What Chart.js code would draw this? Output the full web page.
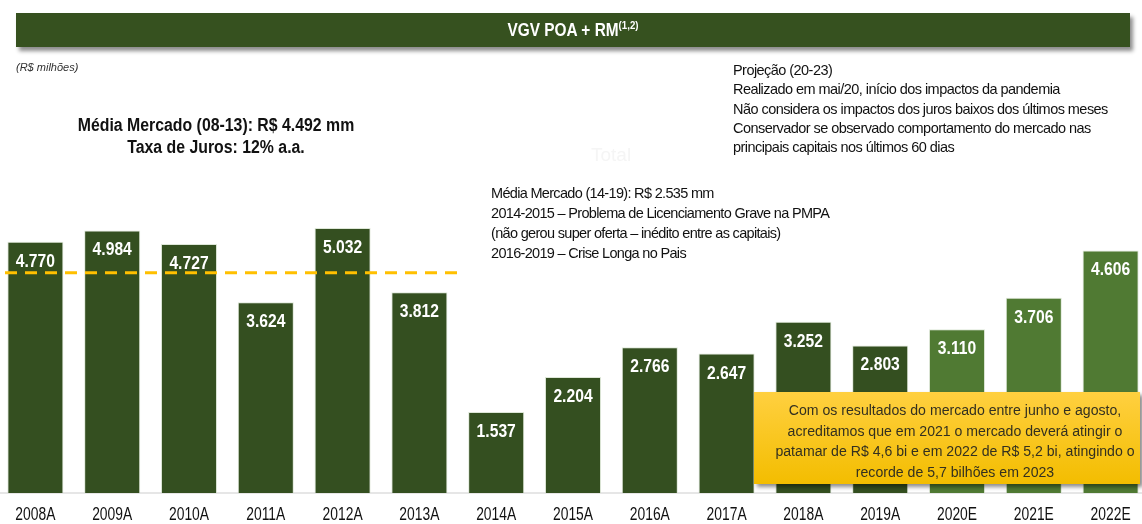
<!DOCTYPE html>
<html><head><meta charset="utf-8">
<script src="https://cdn.jsdelivr.net/npm/chart.js@4.4.0/dist/chart.umd.min.js"></script>
<style>
html,body{margin:0;padding:0;background:#fff;width:1142px;height:524px;overflow:hidden;position:relative;font-family:"Liberation Sans",Arial,sans-serif;}
#wrap{position:absolute;left:-3px;top:0;width:1152px;height:524px;}
.ov{position:absolute;white-space:nowrap;}
#title{left:16px;top:13px;width:1114px;height:34px;background:#36511f;box-shadow:3px 4px 4px rgba(0,0,0,0.45);}
#titletxt{left:16px;top:13px;width:1114px;height:34px;color:#fff;font-weight:bold;font-size:17.5px;line-height:34px;text-align:center;transform:scaleX(0.88);}
#titletxt sup{font-size:11px;vertical-align:top;position:relative;top:-5px;}
#unit{left:16px;top:61px;font-size:11px;font-style:italic;color:#333;}
#media1{left:0;width:432px;top:114px;text-align:center;font-weight:bold;font-size:18px;line-height:22px;color:#111;transform:scaleX(0.88);}
#proj{left:733px;top:61px;font-size:14.5px;line-height:19.3px;color:#111;letter-spacing:-0.55px;}
#media2{left:491px;top:183px;font-size:14.5px;line-height:20px;color:#111;letter-spacing:-0.68px;}
#total{left:591px;top:144px;font-size:19px;color:#f5f5f5;}
#box{left:754px;top:392px;width:386px;height:92px;background:linear-gradient(#ffd040,#f3bd00);box-shadow:3px 3px 4px rgba(0,0,0,0.45);}
#boxtxt{left:755px;top:400px;width:400px;text-align:center;font-size:15.5px;line-height:20.5px;color:#333020;transform:scaleX(0.91);}
</style></head>
<body>
<div id="wrap"><canvas id="c" width="1152" height="524"></canvas></div>
<div class="ov" id="title"></div>
<div class="ov" id="titletxt">VGV POA + RM<sup>(1,2)</sup></div>
<div class="ov" id="unit">(R$ milhões)</div>
<div class="ov" id="total">Total</div>
<div class="ov" id="media1">Média Mercado (08-13): R$ 4.492 mm<br>Taxa de Juros: 12% a.a.</div>
<div class="ov" id="proj">Projeção (20-23)<br>Realizado em mai/20, início dos impactos da pandemia<br>Não considera os impactos dos juros baixos dos últimos meses<br>Conservador se observado comportamento do mercado nas<br>principais capitais nos últimos 60 dias</div>
<div class="ov" id="media2">Média Mercado (14-19): R$ 2.535 mm<br>2014-2015 – Problema de Licenciamento Grave na PMPA<br>(não gerou super oferta – inédito entre as capitais)<br>2016-2019 – Crise Longa no Pais</div>
<div class="ov" id="box"></div>
<div class="ov" id="boxtxt">Com os resultados do mercado entre junho e agosto,<br>acreditamos que em 2021 o mercado deverá atingir o<br>patamar de R$ 4,6 bi e em 2022 de R$ 5,2 bi, atingindo o<br>recorde de 5,7 bilhões em 2023</div>
<script>
const anos = ["2008A","2009A","2010A","2011A","2012A","2013A","2014A","2015A","2016A","2017A","2018A","2019A","2020E","2021E","2022E"];
const vgv = [4770,4984,4727,3624,5032,3812,1537,2204,2766,2647,3252,2803,3110,3706,4606];
const rotulos = ["4.770","4.984","4.727","3.624","5.032","3.812","1.537","2.204","2.766","2.647","3.252","2.803","3.110","3.706","4.606"];
const linhaMedia = 4180;      // dashed line level
const linhaAte = 5;           // dashed line spans categories 0..5
const corReal = "#344f20";
const corProj = "#507a33";

const barColors = anos.map(a => a.endsWith("E") ? corProj : corReal);

function condensed(ctx, text, x, y, sx) {
  ctx.save();
  ctx.translate(x, y);
  ctx.scale(sx, 1);
  ctx.fillText(text, 0, 0);
  ctx.restore();
}

const labelPlugin = {
  id: "labels",
  afterDatasetsDraw(chart) {
    const ctx = chart.ctx;
    const meta = chart.getDatasetMeta(0);
    ctx.save();
    ctx.fillStyle = "#fff";
    ctx.font = "bold 18px 'Liberation Sans', sans-serif";
    ctx.textAlign = "center";
    ctx.textBaseline = "middle";
    meta.data.forEach((bar, i) => condensed(ctx, rotulos[i], bar.x, bar.y + 20, 0.87));
    ctx.restore();
    // category tick labels
    const xs = chart.scales.x;
    ctx.save();
    ctx.fillStyle = "#111";
    ctx.font = "18px 'Liberation Sans', sans-serif";
    ctx.textAlign = "center";
    ctx.textBaseline = "middle";
    anos.forEach((a, i) => condensed(ctx, a, xs.getPixelForValue(i), xs.bottom - 9, 0.77));
    ctx.restore();
  }
};
const dashPlugin = {
  id: "dash",
  afterDatasetsDraw(chart) {
    const ctx = chart.ctx, x = chart.scales.x, y = chart.scales.y;
    const half = (x.getPixelForValue(1) - x.getPixelForValue(0)) / 2;
    const yy = y.getPixelForValue(linhaMedia);
    ctx.save();
    ctx.strokeStyle = "#ffc000";
    ctx.lineWidth = 3;
    ctx.setLineDash([12, 8]);
    ctx.beginPath();
    ctx.moveTo(x.getPixelForValue(0) - half + 8, yy);
    ctx.lineTo(x.getPixelForValue(linhaAte) + half, yy);
    ctx.stroke();
    ctx.restore();
  }
};

new Chart(document.getElementById("c"), {
  type: "bar",
  data: {
    labels: anos,
    datasets: [{
      data: vgv,
      backgroundColor: barColors,
      borderColor: "rgba(200,215,190,0.6)",
      borderWidth: 1,
      barPercentage: 0.73,
      categoryPercentage: 1.0
    }]
  },
  options: {
    responsive: false,
    animation: false,
    layout: { padding: { top: 19, left: 0, right: 0, bottom: 0 } },
    plugins: { legend: { display: false }, tooltip: { enabled: false } },
    scales: {
      y: { display: false, min: 0, max: 9000 },
      x: {
        grid: { display: false, drawTicks: false },
        border: { display: true, color: "#e6e6e6", width: 2 },
        ticks: { display: false },
        afterFit(scale) { scale.height = 31; }
      }
    }
  },
  plugins: [labelPlugin, dashPlugin]
});
</script>
</body></html>
